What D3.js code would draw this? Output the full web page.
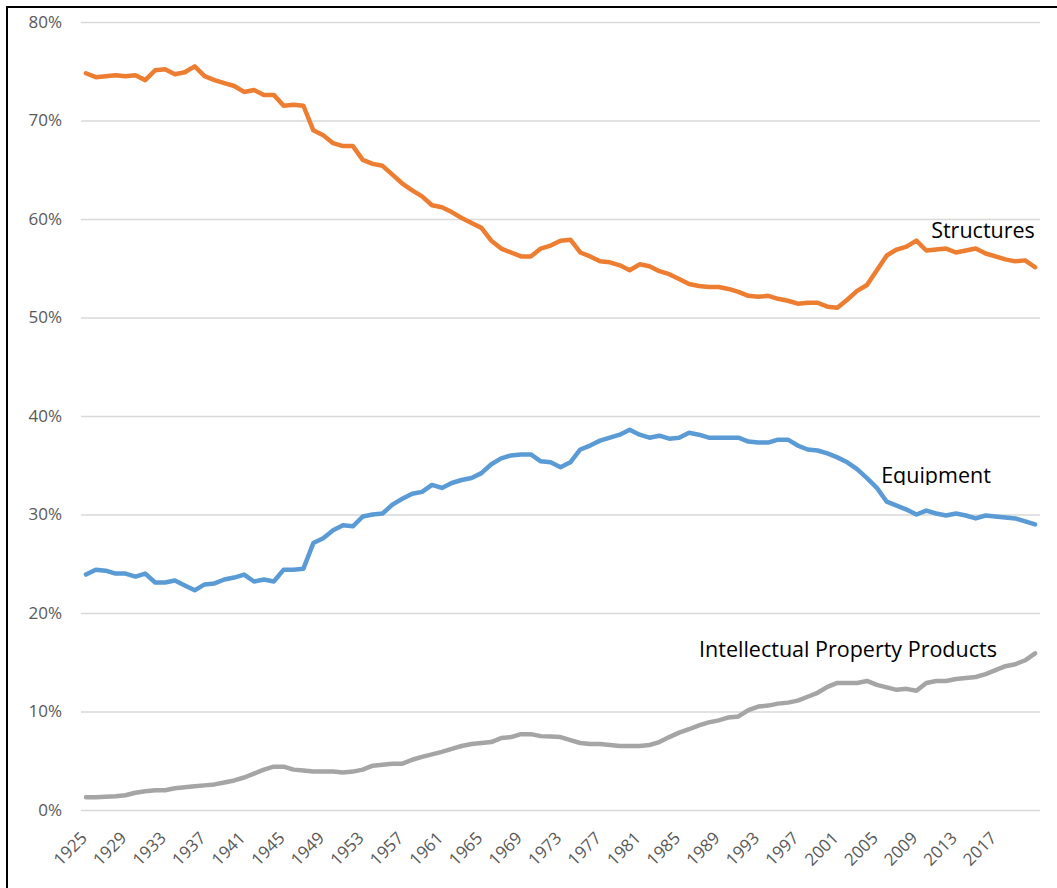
<!DOCTYPE html>
<html>
<head>
<meta charset="utf-8">
<script src="https://cdn.jsdelivr.net/npm/d3@7"></script>
<style>
  body { margin: 0; background: #fff; }
  text { font-family: "Open Sans", "Noto Sans", sans-serif; }
</style>
</head>
<body>
<div id="chart"></div>
<script>
// categories: one per year, 1925-2021
const years = d3.range(1925, 2022);
const tickYears = [1925, 1929, 1933, 1937, 1941, 1945, 1949, 1953, 1957, 1961, 1965, 1969,
  1973, 1977, 1981, 1985, 1989, 1993, 1997, 2001, 2005, 2009, 2013, 2017];
const yTicks = [0, 0.1, 0.2, 0.3, 0.4, 0.5, 0.6, 0.7, 0.8];

// shares in percent
const structures = [
  74.8, 74.4, 74.5, 74.6, 74.5, 74.6, 74.1, 75.1, 75.2, 74.7,
  74.9, 75.5, 74.5, 74.1, 73.8, 73.5, 72.9, 73.1, 72.6, 72.6,
  71.5, 71.6, 71.5, 69.0, 68.5, 67.7, 67.4, 67.4, 66.0, 65.6,
  65.4, 64.5, 63.6, 62.9, 62.3, 61.4, 61.2, 60.7, 60.1, 59.6,
  59.1, 57.8, 57.0, 56.6, 56.2, 56.2, 57.0, 57.3, 57.8, 57.9,
  56.6, 56.2, 55.7, 55.6, 55.3, 54.8, 55.4, 55.2, 54.7, 54.4,
  53.9, 53.4, 53.2, 53.1, 53.1, 52.9, 52.6, 52.2, 52.1, 52.2,
  51.9, 51.7, 51.4, 51.5, 51.5, 51.1, 51.0, 51.8, 52.7, 53.3,
  54.8, 56.3, 56.9, 57.2, 57.8, 56.8, 56.9, 57.0, 56.6, 56.8,
  57.0, 56.5, 56.2, 55.9, 55.7, 55.8, 55.1
];
const equipment = [
  23.9, 24.4, 24.3, 24.0, 24.0, 23.7, 24.0, 23.1, 23.1, 23.3,
  22.8, 22.3, 22.9, 23.0, 23.4, 23.6, 23.9, 23.2, 23.4, 23.2,
  24.4, 24.4, 24.5, 27.1, 27.6, 28.4, 28.9, 28.8, 29.8, 30.0,
  30.1, 31.0, 31.6, 32.1, 32.3, 33.0, 32.7, 33.2, 33.5, 33.7,
  34.2, 35.1, 35.7, 36.0, 36.1, 36.1, 35.4, 35.3, 34.8, 35.3,
  36.6, 37.0, 37.5, 37.8, 38.1, 38.6, 38.1, 37.8, 38.0, 37.7,
  37.8, 38.3, 38.1, 37.8, 37.8, 37.8, 37.8, 37.4, 37.3, 37.3,
  37.6, 37.6, 37.0, 36.6, 36.5, 36.2, 35.8, 35.3, 34.6, 33.7,
  32.7, 31.3, 30.9, 30.5, 30.0, 30.4, 30.1, 29.9, 30.1, 29.9,
  29.6, 29.9, 29.8, 29.7, 29.6, 29.3, 29.0
];
const ipp = [
  1.3, 1.3, 1.35, 1.4, 1.5, 1.75, 1.9, 2.0, 2.0, 2.2,
  2.3, 2.4, 2.5, 2.6, 2.8, 3.0, 3.3, 3.7, 4.1, 4.4,
  4.4, 4.1, 4.0, 3.9, 3.9, 3.9, 3.8, 3.9, 4.1, 4.5,
  4.6, 4.7, 4.7, 5.1, 5.4, 5.65, 5.9, 6.2, 6.5, 6.7,
  6.8, 6.9, 7.3, 7.4, 7.7, 7.7, 7.5, 7.45, 7.4, 7.1,
  6.8, 6.7, 6.7, 6.6, 6.5, 6.5, 6.5, 6.6, 6.9, 7.4,
  7.85, 8.2, 8.6, 8.9, 9.1, 9.4, 9.5, 10.15, 10.5, 10.6,
  10.8, 10.9, 11.1, 11.5, 11.9, 12.5, 12.9, 12.9, 12.9, 13.1,
  12.7, 12.45, 12.2, 12.3, 12.1, 12.9, 13.1, 13.1, 13.3, 13.4,
  13.5, 13.8, 14.2, 14.6, 14.8, 15.2, 15.9
];

const seriesNames = ["Structures", "Equipment", "Intellectual Property Products"];
const seriesColors = ["#ED7D31", "#5B9BD5", "#A5A5A5"];

const W = 1057, H = 888;
const margin = {top: 22, right: 17, bottom: 78, left: 81},
    width = W - margin.left - margin.right,
    height = H - margin.top - margin.bottom;

const svg = d3.select("#chart")
  .append("svg")
    .attr("width", W)
    .attr("height", H);

// frame of the pasted chart (only left and top edge show)
svg.append("rect")
  .attr("x", 7).attr("y", 7)
  .attr("width", 1200).attr("height", 1000)
  .attr("fill", "none")
  .attr("stroke", "#000")
  .attr("stroke-width", 2);

const g = svg.append("g")
  .attr("transform", `translate(${margin.left}, ${margin.top})`);

// X scale: one band per year
const x = d3.scaleBand()
  .domain(years)
  .range([0, width]);
const cx = d => x(d) + x.bandwidth() / 2;

// Y scale
const y = d3.scaleLinear()
  .domain([0, 0.8])
  .range([height, 0]);

// gridlines + y labels
const yAxis = g.append("g")
  .call(d3.axisLeft(y)
    .tickValues(yTicks)
    .tickSize(-width)
    .tickPadding(19)
    .tickFormat(d3.format(".0%")));
yAxis.select(".domain").remove();
yAxis.selectAll("line")
  .attr("stroke", "#d9d9d9")
  .attr("stroke-width", 1.5);
yAxis.selectAll("text")
  .attr("fill", "#595959")
  .style("font-size", "17px");

// x labels, rotated
const xAxis = g.append("g")
  .attr("transform", `translate(0, ${height})`)
  .call(d3.axisBottom(x)
    .tickValues(tickYears)
    .tickSize(0));
xAxis.select(".domain").remove();
xAxis.selectAll("text")
  .attr("fill", "#595959")
  .style("font-size", "17px")
  .attr("text-anchor", "end")
  .attr("x", 0).attr("y", 0)
  .attr("dy", "0.35em")
  .attr("transform", "translate(-2, 25) rotate(-45)");

// lines
const allSeries = [structures, equipment, ipp];
const line = d3.line()
  .x((d, i) => cx(years[i]))
  .y(d => y(d / 100));

allSeries.forEach(function(values, k) {
  g.append("path")
    .datum(values)
    .attr("fill", "none")
    .attr("stroke", seriesColors[k])
    .attr("stroke-width", 4.5)
    .attr("stroke-linejoin", "round")
    .attr("stroke-linecap", "round")
    .attr("d", line);
});

// series labels (Equipment label box cuts off its descenders)
svg.append("clipPath")
  .attr("id", "eqclip")
  .append("rect")
    .attr("x", 850).attr("y", 455)
    .attr("width", 180).attr("height", 30);

const labels = [
  {text: seriesNames[0], x: 983, y: 238, clip: null},
  {text: seriesNames[1], x: 936, y: 483, clip: "url(#eqclip)"},
  {text: seriesNames[2], x: 848, y: 657, clip: null}
];
labels.forEach(function(l) {
  svg.append("text")
    .attr("x", l.x)
    .attr("y", l.y)
    .attr("text-anchor", "middle")
    .attr("clip-path", l.clip)
    .style("font-size", "21.5px")
    .attr("fill", "#000")
    .text(l.text);
});
</script>
</body>
</html>
